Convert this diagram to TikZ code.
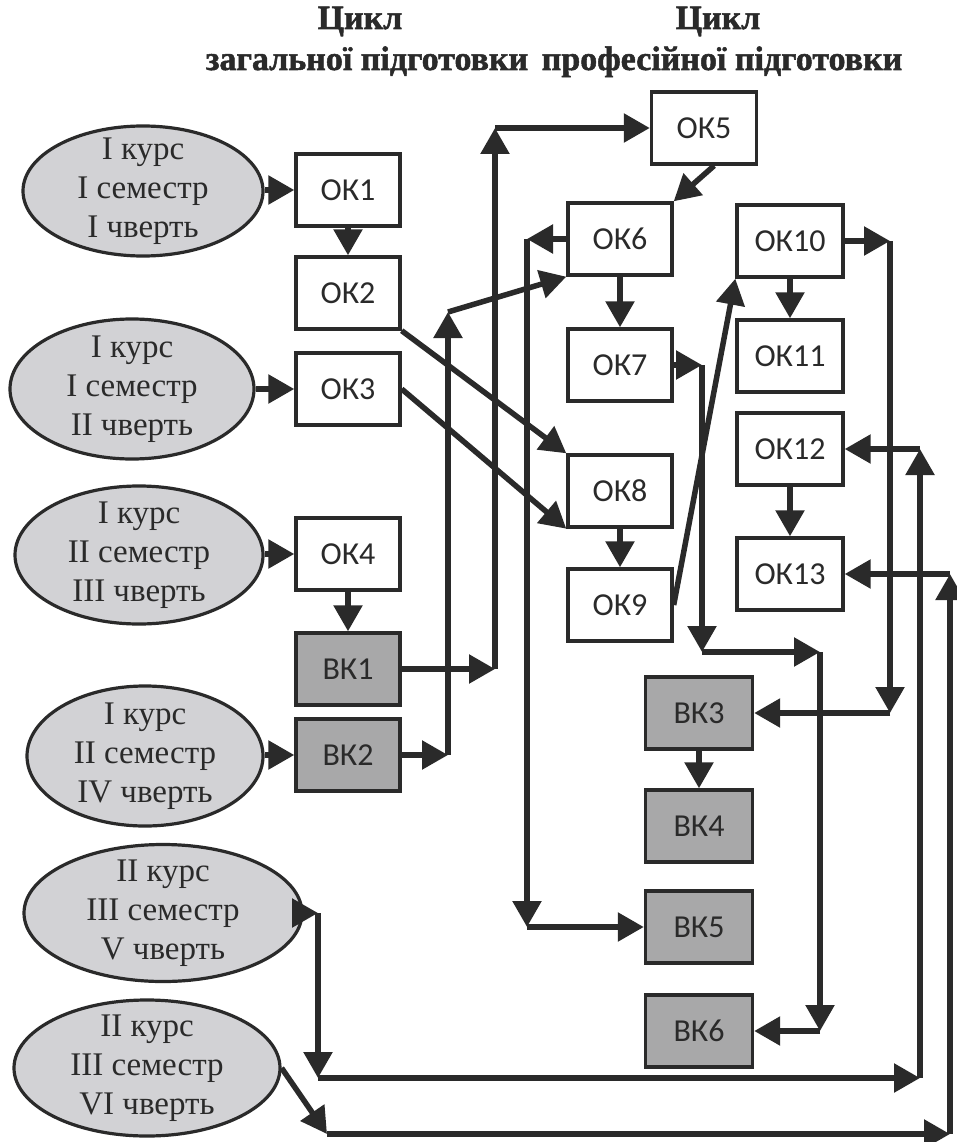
\documentclass[tikz,border=0pt]{standalone}
\usepackage{fontspec}
\setmainfont{Liberation Serif}
\newfontfamily\boxfont{Carlito}
\newfontfamily\titlefont[FakeBold=1.5]{Liberation Serif Bold}
\usetikzlibrary{arrows.meta,shapes.geometric}
\definecolor{ink}{HTML}{2A2A2A}
\definecolor{semfill}{HTML}{D2D2D5}
\definecolor{vkfill}{HTML}{A8A8A9}
\begin{document}
\begin{tikzpicture}[x=1pt,y=-1pt,
  okbox/.style={draw=ink, line width=3.4pt, fill=white, minimum width=104pt, minimum height=72pt, inner sep=0pt, font=\boxfont\fontsize{32}{32}\selectfont, text=ink},
  vkbox/.style={okbox, fill=vkfill},
  sem/.style={ellipse, draw=ink, line width=3.2pt, fill=semfill, inner sep=0pt},
  semtext/.style={align=center, inner sep=0pt, text=ink, font=\fontsize{33}{39}\selectfont},
  ttl/.style={anchor=base, inner sep=0pt, text=ink, font=\titlefont\fontsize{34}{34}\selectfont},
  con/.style={draw=ink, line width=5.5pt, -{Triangle[length=26pt,width=28pt]}},
]
\useasboundingbox[fill=white] (0,0) rectangle (957,1142);

% titles
\node[ttl] (t1) at (360,29) {Цикл};
\node[ttl] (t2) at (718,29) {Цикл};
\node[ttl] (t3) at (367,70) {загальної підготовки};
\node[ttl] (t4) at (722,70) {професійної підготовки};

% ellipses
\node[sem, minimum width=240pt, minimum height=130pt] (e1) at (143,191) {};
\node[semtext] (e1t) at (e1) {I курс\\I семестр\\I чверть};
\node[sem, minimum width=244pt, minimum height=140pt] (e2) at (132,389) {};
\node[semtext] (e2t) at (e2) {I курс\\I семестр\\II чверть};
\node[sem, minimum width=248pt, minimum height=138pt] (e3) at (139,555) {};
\node[semtext] (e3t) at (e3) {I курс\\II семестр\\III чверть};
\node[sem, minimum width=236pt, minimum height=140pt] (e4) at (145,756) {};
\node[semtext] (e4t) at (e4) {I курс\\II семестр\\IV чверть};
\node[sem, minimum width=278pt, minimum height=137pt] (e5) at (163,913) {};
\node[semtext] (e5t) at (e5) {II курс\\III семестр\\V чверть};
\node[sem, minimum width=266pt, minimum height=136pt] (e6) at (147,1068) {};
\node[semtext] (e6t) at (e6) {II курс\\III семестр\\VI чверть};

% left column
\node[okbox] (ok1) at (348,190) {ОК1};
\node[okbox] (ok2) at (348,293) {ОК2};
\node[okbox] (ok3) at (348,389) {ОК3};
\node[okbox] (ok4) at (348,554) {ОК4};
\node[vkbox] (bk1) at (348,669) {ВК1};
\node[vkbox] (bk2) at (348,755) {ВК2};

% middle column
\node[okbox, minimum width=105pt] (ok5) at (704,128) {ОК5};
\node[okbox] (ok6) at (620,239) {ОК6};
\node[okbox] (ok7) at (620,365) {ОК7};
\node[okbox] (ok8) at (620,491) {ОК8};
\node[okbox] (ok9) at (620,605) {ОК9};

% right column
\node[okbox, minimum width=106pt] (ok10) at (790,241) {ОК10};
\node[okbox, minimum width=106pt] (ok11) at (790,356) {ОК11};
\node[okbox, minimum width=106pt] (ok12) at (790,449) {ОК12};
\node[okbox, minimum width=106pt] (ok13) at (790,574) {ОК13};

% elective column
\node[vkbox, minimum width=107pt] (bk3) at (699,713) {ВК3};
\node[vkbox, minimum width=107pt] (bk4) at (699,826) {ВК4};
\node[vkbox, minimum width=107pt] (bk5) at (699,927) {ВК5};
\node[vkbox, minimum width=107pt] (bk6) at (699,1031) {ВК6};

% routing points
\coordinate (c2) at (495,128);
\coordinate (c1) at (495,669);
\coordinate (d1) at (448,755);
\coordinate (d2) at (448,312);
\coordinate (f1) at (527,239);
\coordinate (f2) at (527,927);
\coordinate (g1) at (702,365);
\coordinate (g2) at (702,652);
\coordinate (g3) at (820,652);
\coordinate (g4) at (820,1031);
\coordinate (h1) at (890,241);
\coordinate (h2) at (890,713);
\coordinate (k1) at (318,913);
\coordinate (k2) at (318,1078);
\coordinate (k3) at (920,1078);
\coordinate (k4) at (920,449);
\coordinate (m1) at (327,1134);
\coordinate (m2) at (950,1134);
\coordinate (m3) at (950,574);

% semester -> first courses
\draw[con] (e1.east |- ok1) -- (ok1.west);
\draw[con] (e2.east |- ok3) -- (ok3.west);
\draw[con] (e3.east |- ok4) -- (ok4.west);
\draw[con] (e4.east |- bk2) -- (bk2.west);

% vertical chains
\draw[con] (ok1.south) -- (ok2.north);
\draw[con] (ok4.south) -- (bk1.north);
\draw[con] (ok6.south) -- (ok7.north);
\draw[con] (ok8.south) -- (ok9.north);
\draw[con] (ok10.south) -- (ok11.north);
\draw[con] (ok12.south) -- (ok13.north);
\draw[con] (bk3.south) -- (bk4.north);

% diagonals
\draw[con] (ok2.south east) -- (ok8.north west);
\draw[con] (ok3.east) -- (ok8.south west);
\draw[con] (ok5.285) -- (ok6.north east);
\draw[con] (ok9.east) -- (ok10.south west);

% BK1 -> OK5
\draw[con] (bk1.east) -- (c1);
\draw[con] (c1) -- (c2);
\draw[con] (c2) -- (ok5.west);

% BK2 -> OK6
\draw[con] (bk2.east) -- (d1);
\draw[con] (d1) -- (d2);
\draw[con] (d2) -- (ok6.south west);

% OK6 -> BK5
\draw[con] (ok6.west) -- (f1);
\draw[con] (f1) -- (f2);
\draw[con] (f2) -- (bk5.west);

% OK7 -> BK6
\draw[con] (ok7.east) -- (g1);
\draw[con] (g1) -- (g2);
\draw[con] (g2) -- (g3);
\draw[con] (g3) -- (g4);
\draw[con] (g4) -- (bk6.east);

% OK10 -> BK3
\draw[con] (ok10.east) -- (h1);
\draw[con] (h1) -- (h2);
\draw[con] (h2) -- (bk3.east);

% V quarter -> OK12
\draw[con] ([xshift=-8pt]e5.east) -- (k1);
\draw[con] (k1) -- (k2);
\draw[con] (k2) -- (k3);
\draw[con] (k3) -- (k4);
\draw[con] (k4) -- (ok12.east);

% VI quarter -> OK13
\draw[con] (e6.east) -- (m1);
\draw[con] (m1) -- (m2);
\draw[con] (m2) -- (m3);
\draw[con] (m3) -- (ok13.east);
\end{tikzpicture}
\end{document}
